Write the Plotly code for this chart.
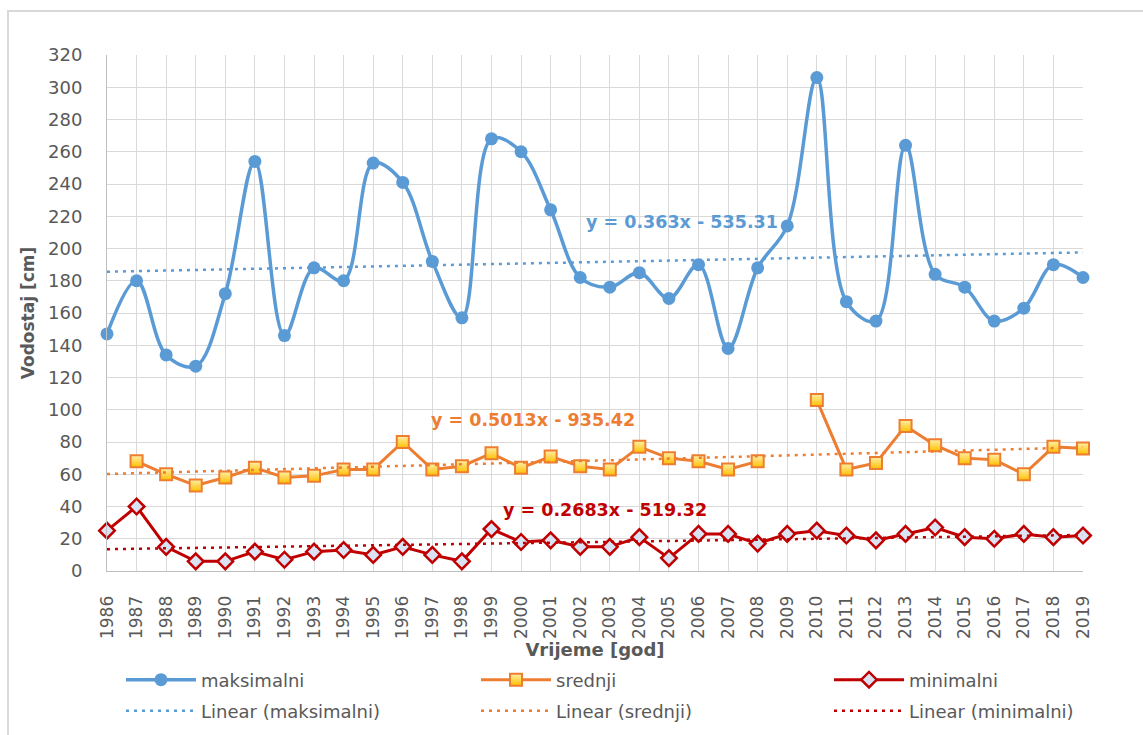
import plotly.graph_objects as go

years = list(range(1986, 2020))

maksimalni = [147, 180, 134, 127, 172, 254, 146, 188, 180, 253, 241, 192, 157, 268, 260, 224,
              182, 176, 185, 169, 190, 138, 188, 214, 306, 167, 155, 264, 184, 176, 155, 163, 190, 182]
srednji = [None, 68, 60, 53, 58, 64, 58, 59, 63, 63, 80, 63, 65, 73, 64, 71,
           65, 63, 77, 70, 68, 63, 68, None, 106, 63, 67, 90, 78, 70, 69, 60, 77, 76]
minimalni = [25, 40, 15, 6, 6, 12, 7, 12, 13, 10, 15, 10, 6, 26, 18, 19,
             15, 15, 21, 8, 23, 23, 17, 23, 25, 22, 19, 23, 27, 21, 20, 23, 21, 22]

# trendline coefficients as printed on the chart: y = a*x + b
trend_maks = (0.363, -535.31)
trend_sred = (0.5013, -935.42)
trend_min = (0.2683, -519.32)

eq_texts = ["y = 0.363x - 535.31", "y = 0.5013x - 935.42", "y = 0.2683x - 519.32"]

BLUE = "#5B9BD5"
ORANGE = "#ED7D31"
RED = "#C00000"
GRID = "#D9D9D9"
TXT = "#595959"
FONT = "DejaVu Sans"

# plot area in pixels (for placing legends / border in paper units)
PL, PR, PT, PB = 107, 1083, 55, 571
PW, PH = PR - PL, PB - PT


def px_x(p):
    return (p - PL) / PW


def px_y(p):
    return (PB - p) / PH


fig = go.Figure()

fig.add_trace(go.Scatter(
    x=years, y=maksimalni, name="maksimalni", mode="lines+markers",
    line=dict(color=BLUE, width=3.5, shape="spline", smoothing=1.0),
    marker=dict(symbol="circle", size=13, color=BLUE),
    cliponaxis=False, legend="legend"))
fig.add_trace(go.Scatter(
    x=years, y=srednji, name="srednji", mode="lines+markers", connectgaps=False,
    line=dict(color=ORANGE, width=3),
    marker=dict(symbol="square", size=12, color="#FFEFA8",
                gradient=dict(type="vertical", color="#FFC000"),
                line=dict(color=ORANGE, width=2)),
    cliponaxis=False, legend="legend2"))
fig.add_trace(go.Scatter(
    x=years, y=minimalni, name="minimalni", mode="lines+markers",
    line=dict(color=RED, width=3),
    marker=dict(symbol="diamond", size=12, color="#DAE3F3",
                line=dict(color=RED, width=2.5)),
    cliponaxis=False, legend="legend3"))


def trend(coef):
    a, b = coef
    return [a * yr + b for yr in years]


for name, coef, col, lg in [("Linear (maksimalni)", trend_maks, BLUE, "legend4"),
                            ("Linear (srednji)", trend_sred, ORANGE, "legend5"),
                            ("Linear (minimalni)", trend_min, RED, "legend6")]:
    t = trend(coef)
    fig.add_trace(go.Scatter(
        x=[years[0], years[-1]], y=[t[0], t[-1]], name=name, mode="lines",
        line=dict(color=col, width=2.5, dash="3px,5px"), legend=lg))

# equation labels
for txt, col, ax, ay in [(eq_texts[0], BLUE, 2005.45, 216.5),
                         (eq_texts[1], ORANGE, 2000.4, 93.5),
                         (eq_texts[2], RED, 2002.85, 38)]:
    fig.add_annotation(x=ax, y=ay, text=txt, showarrow=False, xref="x", yref="y",
                       font=dict(family=FONT, size=17.5, color=col, weight="bold"))

# chart-area border
fig.add_shape(type="rect", xref="paper", yref="paper",
              x0=px_x(8), x1=1.2, y0=-0.5, y1=px_y(11),
              line=dict(color=GRID, width=2), layer="below")

fig.update_xaxes(
    range=[1986, 2019], tickmode="array", tickvals=years, ticktext=[str(y) for y in years],
    tickangle=-90, showgrid=True, gridcolor=GRID, gridwidth=1,
    showline=True, linecolor="#BFBFBF", linewidth=1, zeroline=False,
    tickfont=dict(family=FONT, size=17, color=TXT), ticklabelstandoff=17,
    title=dict(text="Vrijeme [god]", font=dict(family=FONT, size=18, color=TXT, weight="bold"),
               standoff=2))
fig.update_yaxes(
    range=[0, 320], tickmode="linear", tick0=0, dtick=20,
    showgrid=True, gridcolor=GRID, gridwidth=1,
    showline=True, linecolor="#BFBFBF", linewidth=1, zeroline=False,
    tickfont=dict(family=FONT, size=18, color=TXT), ticklabelstandoff=20,
    title=dict(text="Vodostaj [cm]", font=dict(family=FONT, size=17, color=TXT, weight="bold"),
               standoff=9))

legend_common = dict(orientation="v", itemwidth=70,
                     font=dict(family=FONT, size=18, color=TXT), bgcolor="rgba(0,0,0,0)",
                     xanchor="left", yanchor="middle", tracegroupgap=0)

col_x = [121, 476, 829]
row_y = [680, 711]
legends = {}
names = ["legend", "legend2", "legend3", "legend4", "legend5", "legend6"]
for i, nm in enumerate(names):
    r, c = divmod(i, 3)
    legends[nm] = dict(x=px_x(col_x[c]), y=px_y(row_y[r]), **legend_common)

fig.update_layout(
    width=1143, height=735, autosize=False,
    margin=dict(l=PL, r=1143 - PR, t=PT, b=735 - PB, autoexpand=False),
    paper_bgcolor="white", plot_bgcolor="white",
    showlegend=True,
    **legends,
)

fig.write_html("out.html", post_script="document.body.style.margin='0';",
               config={"displayModeBar": False})
